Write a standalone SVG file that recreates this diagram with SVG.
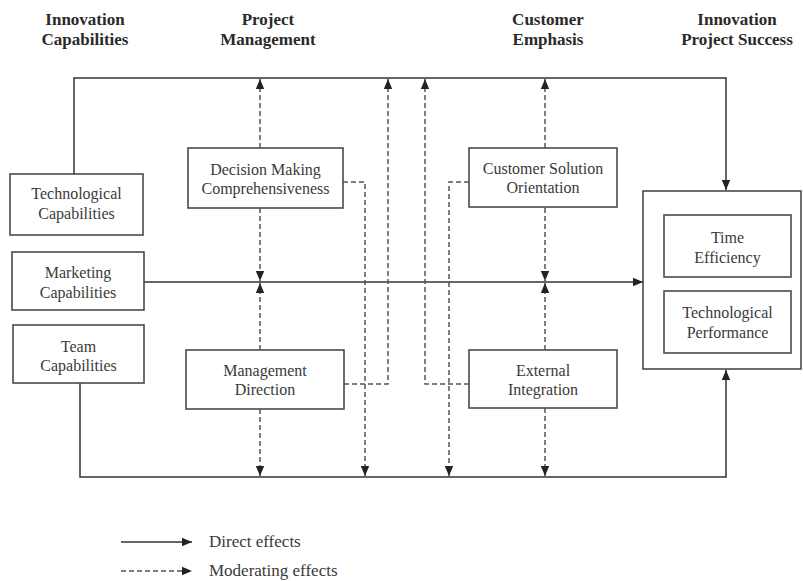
<svg xmlns="http://www.w3.org/2000/svg" width="803" height="581" viewBox="0 0 803 581">
<style>
.hd{font-family:"Liberation Serif",serif;font-weight:bold;font-size:17px;fill:#2a2a2a;text-anchor:middle}
.tx{font-family:"Liberation Serif",serif;font-size:16px;fill:#3a3a3a;text-anchor:middle}
.lg{font-family:"Liberation Serif",serif;font-size:17px;fill:#3a3a3a}
.box{fill:#fff;stroke:#4a4a4a;stroke-width:1.6}
.sl{fill:none;stroke:#333;stroke-width:1.5}
.dl{fill:none;stroke:#555;stroke-width:1.5;stroke-dasharray:5,3}
</style>
<defs>
<marker id="ah" markerUnits="userSpaceOnUse" markerWidth="10" markerHeight="10" viewBox="0 0 10 10" refX="10" refY="5" orient="auto">
<path d="M0,0.8 L10,5 L0,9.2 Z" fill="#222"/>
</marker>
</defs>
<g id="headers">
<text class="hd" x="85" y="25">Innovation</text>
<text class="hd" x="85" y="45">Capabilities</text>
<text class="hd" x="268" y="25">Project</text>
<text class="hd" x="268" y="45">Management</text>
<text class="hd" x="548" y="25">Customer</text>
<text class="hd" x="548" y="45">Emphasis</text>
<text class="hd" x="737" y="25">Innovation</text>
<text class="hd" x="737" y="45">Project Success</text>
</g>
<g id="connectors">
<path class="sl" d="M74,174 V78 H726 V190" marker-end="url(#ah)"/>
<path class="sl" d="M144,282 H643" marker-end="url(#ah)"/>
<path class="sl" d="M80,383 V477 H726 V370" marker-end="url(#ah)"/>
<path class="dl" d="M260,148 V79" marker-end="url(#ah)"/>
<path class="dl" d="M260,208 V281" marker-end="url(#ah)"/>
<path class="dl" d="M260,350 V283" marker-end="url(#ah)"/>
<path class="dl" d="M260,409 V476" marker-end="url(#ah)"/>
<path class="dl" d="M343,182 H365 V476" marker-end="url(#ah)"/>
<path class="dl" d="M344,384 H388 V79" marker-end="url(#ah)"/>
<path class="dl" d="M545,148 V79" marker-end="url(#ah)"/>
<path class="dl" d="M545,208 V281" marker-end="url(#ah)"/>
<path class="dl" d="M545,350 V283" marker-end="url(#ah)"/>
<path class="dl" d="M545,408 V476" marker-end="url(#ah)"/>
<path class="dl" d="M469,182 H449 V476" marker-end="url(#ah)"/>
<path class="dl" d="M469,384 H425 V79" marker-end="url(#ah)"/>
</g>
<g id="tech-cap">
<rect class="box" x="10" y="174" width="133" height="61"/>
<text class="tx" x="76.5" y="199">Technological</text>
<text class="tx" x="76.5" y="219">Capabilities</text>
</g>
<g id="marketing-cap">
<rect class="box" x="12" y="252" width="132" height="58"/>
<text class="tx" x="78" y="278">Marketing</text>
<text class="tx" x="78" y="298">Capabilities</text>
</g>
<g id="team-cap">
<rect class="box" x="13" y="325" width="131" height="58"/>
<text class="tx" x="78.5" y="352">Team</text>
<text class="tx" x="78.5" y="371">Capabilities</text>
</g>
<g id="decision-making">
<rect class="box" x="188" y="148" width="155" height="60"/>
<text class="tx" x="265.5" y="175">Decision Making</text>
<text class="tx" x="265.5" y="194">Comprehensiveness</text>
</g>
<g id="management-direction">
<rect class="box" x="186" y="350" width="158" height="59"/>
<text class="tx" x="265" y="376">Management</text>
<text class="tx" x="265" y="395">Direction</text>
</g>
<g id="customer-solution">
<rect class="box" x="469" y="148" width="148" height="59"/>
<text class="tx" x="543" y="174">Customer Solution</text>
<text class="tx" x="543" y="193">Orientation</text>
</g>
<g id="external-integration">
<rect class="box" x="469" y="350" width="148" height="58"/>
<text class="tx" x="543" y="376">External</text>
<text class="tx" x="543" y="395">Integration</text>
</g>
<g id="project-success">
<rect class="box" x="643" y="191" width="158" height="178"/>
</g>
<g id="time-efficiency">
<rect class="box" x="664" y="215" width="127" height="62"/>
<text class="tx" x="727.5" y="243">Time</text>
<text class="tx" x="727.5" y="263">Efficiency</text>
</g>
<g id="tech-performance">
<rect class="box" x="664" y="291" width="127" height="62"/>
<text class="tx" x="727.5" y="318">Technological</text>
<text class="tx" x="727.5" y="338">Performance</text>
</g>
<g id="legend">
<path class="sl" d="M121,542 H192" marker-end="url(#ah)"/>
<path class="dl" d="M121,571 H192" marker-end="url(#ah)"/>
<text class="lg" x="209" y="547">Direct effects</text>
<text class="lg" x="209" y="576">Moderating effects</text>
</g>
</svg>
